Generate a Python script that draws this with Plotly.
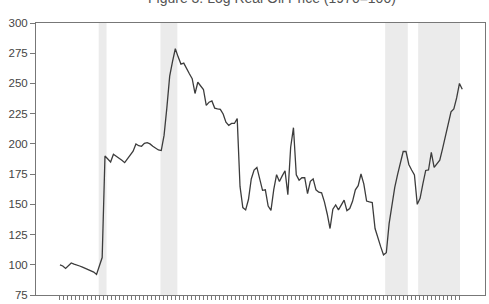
import plotly.graph_objects as go

# Quarterly data, 1970Q1 - 2005Q4
start_year = 1970
oil_index = [
    100, 99, 97, 99.5, 101.5, 100.5, 100, 99, 98, 97, 96, 95.5, 94, 92, 100, 106,
    190, 187, 185, 191.5, 190, 188.5, 186.5, 184.5, 187.5, 191, 194, 200, 198.5, 198, 200.5, 201,
    200, 198, 196.5, 195, 194.5, 207, 230, 256, 268, 278.7, 272, 266, 266.8, 262, 258, 254,
    241.7, 251, 248, 245, 231.8, 234.5, 235.5, 229.6, 229, 228.5, 224.7, 218, 215.3, 216.9, 216.9, 220.9,
    164.8, 147.3, 145.4, 154, 171, 178.3, 180.5, 170.5, 161.6, 162, 148.6, 145, 162.4, 174.5, 168.9, 173.5,
    177.8, 158, 197.2, 213.4, 174.5, 170, 172, 172.1, 158.8, 169, 171, 162, 160, 159.5, 152, 142,
    130, 146, 149.5, 145.4, 150, 153.5, 144.8, 146.5, 152.5, 162, 165.4, 175.1, 167, 152.7, 152, 151.5,
    130, 122, 115, 108.2, 110, 134, 150, 164, 174.5, 185, 193.7, 193.7, 183, 178.4, 174.3, 150,
    155, 167, 178, 178.4, 193, 180.5, 183.5, 186.5, 196, 207, 218, 226.5, 229, 238, 250, 245.2,
]
# shaded episodes (decimal years, start/end)
shade_start = [1973.44, 1978.93, 1998.90, 2001.83]
shade_end = [1974.14, 1980.43, 2000.91, 2005.55]

y_ticks = [75, 100, 125, 150, 175, 200, 225, 250, 275, 300]

x_vals = [start_year + i / 4 for i in range(len(oil_index))]

fig = go.Figure()
fig.add_trace(go.Scatter(
    x=x_vals, y=oil_index, mode="lines",
    line=dict(color="#3c3c3c", width=1.3),
    hoverinfo="skip", showlegend=False,
))

for s, e in zip(shade_start, shade_end):
    fig.add_shape(type="rect", xref="x", yref="paper", x0=s, x1=e, y0=0, y1=1,
                  fillcolor="#ebebeb", line=dict(width=0), layer="below")

tick_step = (2005.5 - 1970) / 100
x_tickvals = [1970 + k * tick_step for k in range(101)]

fig.update_layout(
    width=489, height=304,
    margin=dict(l=36, r=3, t=23, b=3),
    paper_bgcolor="white", plot_bgcolor="white",
    font=dict(family="Liberation Sans, Arial, sans-serif", color="#444444"),
    annotations=[dict(
        text="Figure 3: Log Real Oil Price (1970=100)",
        xref="paper", yref="paper", x=0.525, y=1.059,
        xanchor="center", yanchor="bottom", showarrow=False,
        font=dict(size=14, color="#555555"), borderpad=0,
    )],
)
fig.update_xaxes(
    range=[1967.87, 2007.77], tickmode="array", tickvals=x_tickvals,
    showticklabels=False, ticks="outside", ticklen=4, tickcolor="#777777", tickwidth=1,
    showline=True, linecolor="#777777", linewidth=1, mirror=True,
    showgrid=False, zeroline=False,
)
fig.update_yaxes(
    range=[75, 300], tickmode="array", tickvals=y_ticks,
    ticks="outside", ticklen=5, tickcolor="#777777", tickwidth=1,
    showline=True, linecolor="#777777", linewidth=1, mirror=True,
    showgrid=False, zeroline=False,
    tickfont=dict(size=11.5, color="#444444"),
)

fig.write_html("out.html")
